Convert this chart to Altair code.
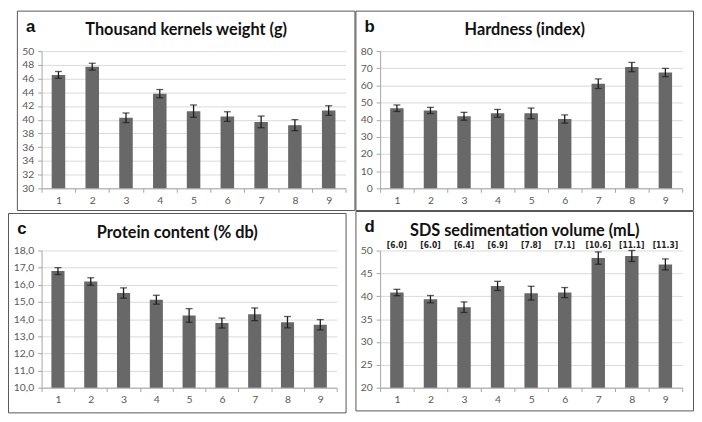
import altair as alt
import pandas as pd

cats = ["1", "2", "3", "4", "5", "6", "7", "8", "9"]

tkw = [46.53, 47.73, 40.28, 43.8, 41.25, 40.46, 39.68, 39.2, 41.34]
tkw_err = [0.5, 0.5, 0.7, 0.6, 0.9, 0.7, 0.85, 0.8, 0.7]

hard = [46.7, 45.4, 42.0, 43.7, 43.7, 40.4, 61.0, 70.7, 67.5]
hard_err = [1.9, 1.8, 2.3, 2.3, 3.1, 2.4, 2.8, 2.7, 2.4]

prot = [16.8, 16.19, 15.52, 15.13, 14.21, 13.77, 14.28, 13.82, 13.67]
prot_err = [0.2, 0.22, 0.3, 0.26, 0.4, 0.29, 0.37, 0.33, 0.3]

sds = [40.81, 39.36, 37.6, 42.26, 40.67, 40.8, 48.34, 48.8, 46.96]
sds_err = [0.7, 0.8, 1.15, 1.0, 1.5, 1.1, 1.35, 1.2, 1.2]
sds_labels = ["[6.0]", "[6.0]", "[6.4]", "[6.9]", "[7.8]", "[7.1]", "[10.6]", "[11.1]", "[11.3]"]

titles = ["Thousand kernels weight (g)", "Hardness (index)", "Protein content (% db)",
          "SDS sedimentation volume (mL)"]
letters = ["a", "b", "c", "d"]

PANEL_W = 342
PANEL_H = 202
BAR = "#686868"
GRID = "#d9d9d9"
AXC = "#a6a6a6"
LAB = "#595959"
FONT = "Lato"


def panel(vals, errs, domain, ticks, title, letter, left, top, width, height,
          comma=False, labels=None):
    df = pd.DataFrame({
        "cat": cats,
        "val": vals,
        "base": [domain[0]] * len(cats),
        "lo": [v - e for v, e in zip(vals, errs)],
        "hi": [v + e for v, e in zip(vals, errs)],
    })
    if labels is not None:
        df["lab"] = labels
    yargs = dict(title=None, values=ticks, tickCount=len(ticks), grid=True,
                 gridColor=GRID, gridWidth=1,
                 domainColor=AXC, tickColor=AXC, tickSize=4, labelPadding=4,
                 labelColor=LAB, labelFont=FONT, labelFontSize=10.5, labelOverlap=False)
    if comma:
        yargs["labelExpr"] = "replace(format(datum.value, '.1f'), '.', ',')"
    yaxis = alt.Axis(**yargs)
    xenc = alt.X("cat:N", sort=cats,
                 scale=alt.Scale(paddingInner=0, paddingOuter=0),
                 axis=alt.Axis(title=None, labelAngle=0, tickBand="extent", grid=False,
                               domainColor=AXC, tickColor=AXC, tickSize=4, labelPadding=3,
                               labelColor=LAB, labelFont=FONT, labelFontSize=10.5))
    base = alt.Chart(df)
    bars = base.mark_bar(color=BAR, width={"band": 0.4}).encode(
        x=xenc,
        y=alt.Y("val:Q", scale=alt.Scale(domain=domain, nice=False, zero=False), axis=yaxis),
        y2="base:Q",
    )
    rule = base.mark_rule(color="#1a1a1a", strokeWidth=1.3).encode(
        x=alt.X("cat:N", sort=cats), y="lo:Q", y2="hi:Q")
    cap_hi = base.mark_tick(color="#1a1a1a", thickness=1.3, size=7).encode(
        x=alt.X("cat:N", sort=cats), y="hi:Q")
    cap_lo = base.mark_tick(color="#1a1a1a", thickness=1.3, size=7).encode(
        x=alt.X("cat:N", sort=cats), y="lo:Q")
    one_t = alt.Chart(pd.DataFrame({"t": [title]}))
    ttl = one_t.mark_text(font=FONT, fontWeight="bold", fontSize=16.5, color="#111111",
                          align="center", baseline="alphabetic").encode(
        text="t:N", x=alt.value(PANEL_W / 2 - left), y=alt.value(24.5 - top))
    one_l = alt.Chart(pd.DataFrame({"t": [letter]}))
    let = one_l.mark_text(font="Liberation Sans", fontWeight="bold", fontSize=17,
                          color="#111111", align="left", baseline="alphabetic").encode(
        text="t:N", x=alt.value(8.8 - left), y=alt.value(20.8 - top))
    border = alt.Chart(pd.DataFrame({"t": [0]})).mark_rect(
        fill="transparent", stroke="#555555", strokeWidth=1).encode(
        x=alt.value(-left), x2=alt.value(PANEL_W - left),
        y=alt.value(-top), y2=alt.value(PANEL_H - top))
    layers = [bars, rule, cap_hi, cap_lo, ttl, let, border]
    if labels is not None:
        ann = base.mark_text(font="DejaVu Sans Condensed, Liberation Sans, sans-serif",
                             fontWeight="bold", fontSize=8.5,
                             color="#222222", baseline="middle").encode(
            x=alt.X("cat:N", sort=cats), y=alt.value(-5.8), text="lab:N")
        layers.append(ann)
    return alt.layer(*layers).properties(width=width, height=height)


pa = panel(tkw, tkw_err, [30, 50], list(range(30, 51, 2)), titles[0], letters[0],
           24.5, 40.5, 308, 139)
pb = panel(hard, hard_err, [0, 80], list(range(0, 81, 10)), titles[1], letters[1],
           24.5, 40.5, 306, 139)
pc = panel(prot, prot_err, [10, 18], list(range(10, 19, 1)), titles[2], letters[2],
           33.5, 37.5, 299, 139, comma=True)
pd_ = panel(sds, sds_err, [20, 50], list(range(20, 51, 5)), titles[3], letters[3],
            24.5, 39.5, 306, 139, labels=sds_labels)

chart = alt.concat(pa, pb, pc, pd_, columns=2, spacing=0).properties(
    padding=0, background="white"
).configure_view(strokeWidth=0)

chart.save("out.html", embed_options={"renderer": "svg", "actions": False})
